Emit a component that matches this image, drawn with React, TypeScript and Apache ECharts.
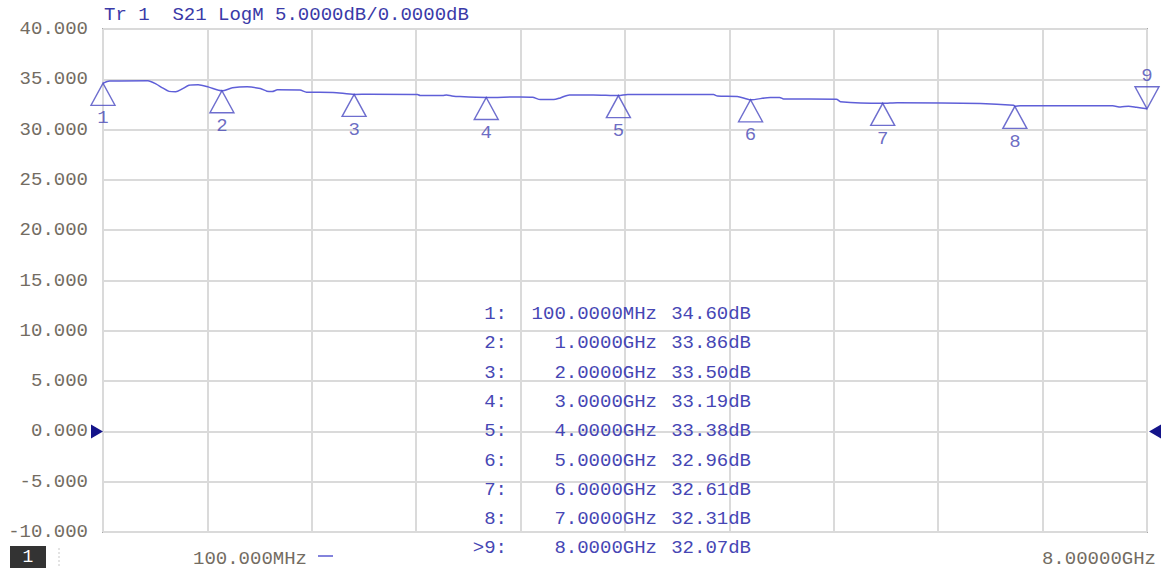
import React, { useEffect, useRef } from "react";
import * as echarts from "echarts";

// Trace: S21 LogM (GHz, dB)
const traceFreq = [0.10, 0.15, 0.44, 0.50, 0.55, 0.60, 0.65, 0.70, 0.75, 0.82, 0.90, 1.00, 1.08, 1.19, 1.29, 1.34, 1.38, 1.42, 1.59, 1.64, 1.84, 2.00, 2.12, 2.48, 2.50, 2.67, 2.70, 2.74, 2.80, 3.00, 3.26, 3.35, 3.41, 3.51, 3.56, 3.63, 3.81, 4.00, 4.07, 4.72, 4.75, 4.90, 5.00, 5.15, 5.22, 5.25, 5.65, 5.68, 6.00, 6.11, 6.74, 6.99, 7.00, 7.04, 7.74, 7.80, 7.86, 7.92, 8.00];
const traceDb = [34.60, 34.82, 34.86, 34.55, 34.15, 33.80, 33.77, 34.05, 34.40, 34.45, 34.22, 33.86, 34.15, 34.25, 34.08, 33.82, 33.78, 33.95, 33.94, 33.72, 33.70, 33.50, 33.52, 33.50, 33.38, 33.38, 33.45, 33.35, 33.28, 33.19, 33.25, 33.22, 32.98, 32.98, 33.15, 33.45, 33.45, 33.38, 33.50, 33.48, 33.34, 33.30, 32.96, 33.20, 33.20, 33.04, 33.02, 32.78, 32.61, 32.68, 32.60, 32.42, 32.31, 32.38, 32.36, 32.25, 32.32, 32.22, 32.07];

// Markers
const markerNames = ["1", "2", "3", "4", "5", "6", "7", "8", "9"];
const markerFreqs = [0.1, 1, 2, 3, 4, 5, 6, 7, 8];
const markerVals = [34.60, 33.86, 33.50, 33.19, 33.38, 32.96, 32.61, 32.31, 32.07];
const activeMarker = 8;

// Axis
const yMin = -10;
const yMax = 40;
const yStep = 5;
const startLabel = "100.000MHz";
const stopLabel = "8.00000GHz";
const titleText = "Tr 1  S21 LogM 5.0000dB/0.0000dB";

const FONT = "Liberation Mono";
const BLUE_TXT = "#4646b4";
const TRACE = "#5f5fd8";
const GRAYTXT = "#736c62";

const freqText = (f: number) => (f < 1 ? (f * 1000).toFixed(4) + "MHz" : f.toFixed(4) + "GHz");

export default function App() {
  const ref = useRef<HTMLDivElement>(null);
  useEffect(() => {
    const chart = echarts.init(ref.current!, null, { renderer: "svg" });
    const upTri = "path://M12,0 L24,22 L0,22 Z";
    const downTri = "path://M0,0 L24,0 L12,22 Z";
    chart.setOption({
      animation: false,
      backgroundColor: "#ffffff",
      grid: {
        left: 103,
        right: 17,
        top: 29,
        bottom: 40,
        show: true,
        borderColor: "#a9a9a9",
        borderWidth: 2,
        backgroundColor: "transparent",
      },
      xAxis: [
        {
          type: "value",
          min: 0.1,
          max: 8,
          axisLine: { show: false },
          axisTick: { show: false },
          axisLabel: { show: false },
          splitLine: { show: false },
        },
        {
          type: "value",
          min: 0,
          max: 10,
          interval: 1,
          position: "bottom",
          axisLine: { show: false },
          axisTick: { show: false },
          axisLabel: { show: false },
          splitLine: { show: true, lineStyle: { color: "#dadada", width: 2 } },
        },
      ],
      yAxis: {
        type: "value",
        min: yMin,
        max: yMax,
        interval: yStep,
        axisLine: { show: false },
        axisTick: { show: false },
        axisLabel: {
          margin: 15,
          color: GRAYTXT,
          fontFamily: FONT,
          fontSize: 19,
          formatter: (v: number) => v.toFixed(3),
        },
        splitLine: { show: true, lineStyle: { color: "#dadada", width: 2 } },
      },
      series: [
        {
          type: "line",
          xAxisIndex: 0,
          data: traceFreq.map((f, i) => [f, traceDb[i]]),
          showSymbol: false,
          smooth: 0.25,
          lineStyle: { color: TRACE, width: 1.5 },
          z: 3,
        },
        {
          type: "scatter",
          xAxisIndex: 0,
          z: 4,
          data: markerFreqs.map((f, i) => {
            const active = i === activeMarker;
            return {
              value: [f, markerVals[i]],
              name: markerNames[i],
              symbol: active ? downTri : upTri,
              symbolSize: [24, 22],
              symbolOffset: [0, active ? -11 : 11],
              label: {
                show: true,
                position: active ? "top" : "bottom",
                distance: active ? 1 : 3,
                formatter: markerNames[i],
                color: BLUE_TXT,
                fontFamily: FONT,
                fontSize: 19,
              },
            };
          }),
          itemStyle: { color: "rgba(0,0,0,0)", borderColor: "#4a4ac2", borderWidth: 1.4 },
        },
      ],
    });

    const y0 = chart.convertToPixel({ yAxisIndex: 0 }, 0) as number;
    const xl = chart.convertToPixel({ xAxisIndex: 0 }, 0.1) as number;
    const xr = chart.convertToPixel({ xAxisIndex: 0 }, 8) as number;

    const graphic: any[] = [
      {
        type: "text",
        x: 104,
        y: 15,
        style: { text: titleText, fill: "#3a3aa8", font: `19px "${FONT}"`, textVerticalAlign: "middle" },
      },
      {
        type: "polygon",
        shape: { points: [[xl - 12, y0 - 7], [xl, y0], [xl - 12, y0 + 7]] },
        style: { fill: "#14148a" },
        z: 10,
      },
      {
        type: "polygon",
        shape: { points: [[xr + 14, y0 - 7], [xr + 2, y0], [xr + 14, y0 + 7]] },
        style: { fill: "#14148a" },
        z: 10,
      },
      { type: "rect", shape: { x: 10, y: 546, width: 36, height: 22 }, style: { fill: "#333333" } },
      {
        type: "text",
        x: 28,
        y: 557,
        style: { text: "1", fill: "#ffffff", font: `18px "${FONT}"`, textAlign: "center", textVerticalAlign: "middle" },
      },
      {
        type: "line",
        shape: { x1: 59, y1: 548, x2: 59, y2: 567 },
        style: { stroke: "#c8c8c8", lineWidth: 1, lineDash: [2, 2] },
      },
      {
        type: "text",
        x: 193,
        y: 559,
        style: { text: startLabel, fill: GRAYTXT, font: `19px "${FONT}"`, textVerticalAlign: "middle" },
      },
      {
        type: "line",
        shape: { x1: 318, y1: 556, x2: 333, y2: 556 },
        style: { stroke: "#5a5ad0", lineWidth: 1.5 },
      },
      {
        type: "text",
        x: 1156,
        y: 559,
        style: { text: stopLabel, fill: GRAYTXT, font: `19px "${FONT}"`, textAlign: "right", textVerticalAlign: "middle" },
      },
    ];

    markerNames.forEach((n, i) => {
      const y = 314 + i * 29.3;
      const id = (i === activeMarker ? ">" : "") + n + ":";
      graphic.push(
        {
          type: "text",
          x: 507,
          y,
          z: 20,
          style: { text: id, fill: BLUE_TXT, font: `19px "${FONT}"`, textAlign: "right", textVerticalAlign: "middle" },
        },
        {
          type: "text",
          x: 657,
          y,
          z: 20,
          style: { text: freqText(markerFreqs[i]), fill: BLUE_TXT, font: `19px "${FONT}"`, textAlign: "right", textVerticalAlign: "middle" },
        },
        {
          type: "text",
          x: 751,
          y,
          z: 20,
          style: { text: markerVals[i].toFixed(2) + "dB", fill: BLUE_TXT, font: `19px "${FONT}"`, textAlign: "right", textVerticalAlign: "middle" },
        }
      );
    });

    chart.setOption({ graphic });
    return () => chart.dispose();
  }, []);

  return (
    <div
      ref={ref}
      style={{ position: "fixed", left: 0, top: 0, width: 1164, height: 572, background: "#fff" }}
    />
  );
}
